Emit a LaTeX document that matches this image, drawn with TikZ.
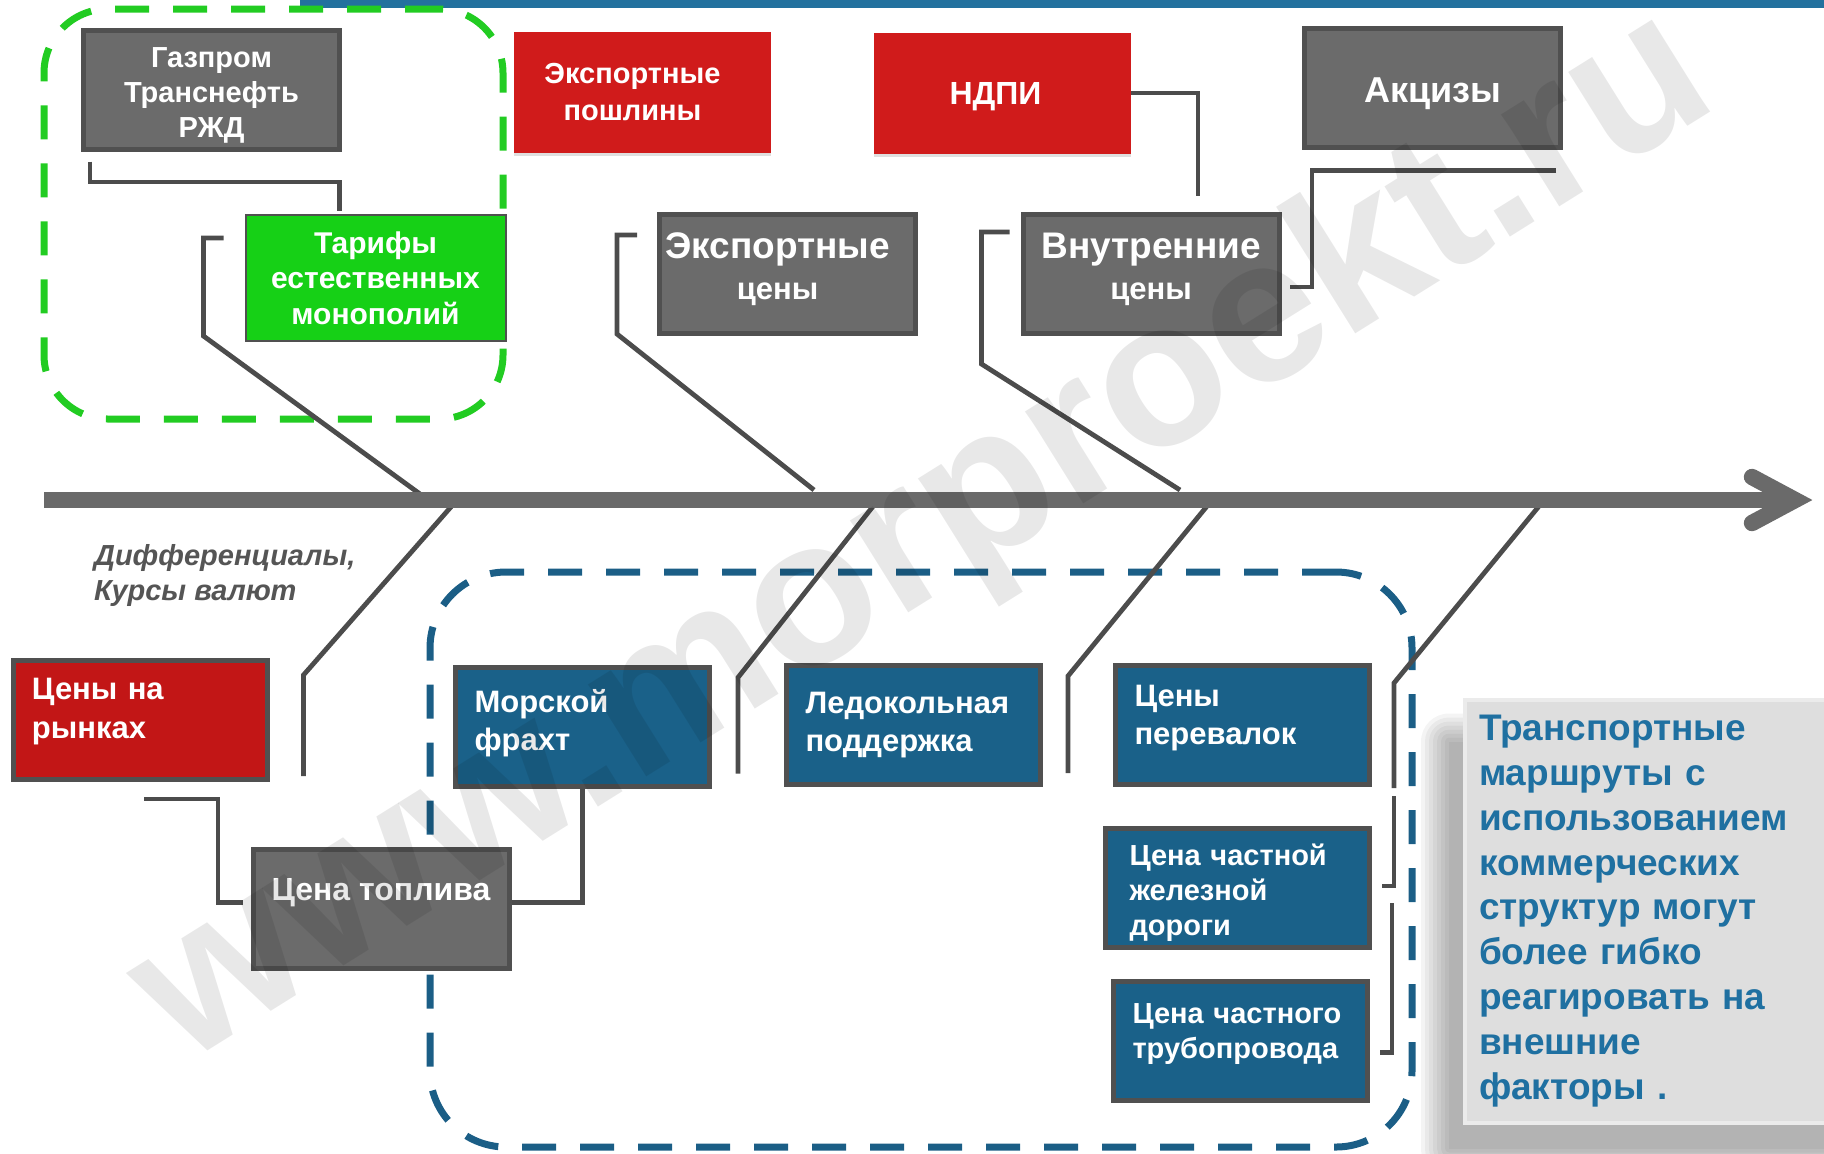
\documentclass[tikz,border=0pt]{standalone}
\usepackage{fontspec}
\setmainfont{Liberation Sans}
\usepackage{xcolor}
\usepackage{tikz}
\usetikzlibrary{shadows,backgrounds}
\definecolor{fbbar}{HTML}{23719E}
\definecolor{fbgray}{HTML}{6B6B6B}
\definecolor{fbrim}{HTML}{505050}
\definecolor{fbred}{HTML}{D01B1B}
\definecolor{fbredmkt}{HTML}{C21616}
\definecolor{fbgreen}{HTML}{16D016}
\definecolor{fbgreenline}{HTML}{22CC22}
\definecolor{fbblue}{HTML}{1A6189}
\definecolor{fbblueline}{HTML}{1B5E86}
\definecolor{fbbone}{HTML}{4C4C4C}
\definecolor{fbaxis}{HTML}{6A6A6A}
\definecolor{fbnote}{HTML}{DEDEDE}
\definecolor{fbnotetext}{HTML}{1F70A1}
\definecolor{fbitalic}{HTML}{555555}
\newcommand{\fsz}[2]{\fontsize{#1}{#2}\selectfont\bfseries}
\newcommand{\rpad}[1]{\hbox to #1{}}
\tikzset{
  graybox/.style={draw=fbrim,line width=2.5pt,fill=fbgray,text=white,
                  align=center,inner sep=0pt,minimum width=128pt,minimum height=59.5pt},
  redbox/.style={fill=fbred,text=white,align=center,inner sep=0pt,
                 minimum width=128.5pt,minimum height=60.5pt,
                 drop shadow={shadow xshift=0pt,shadow yshift=-1.5pt,opacity=.25}},
  greenbox/.style={draw=fbrim,line width=1pt,fill=fbgreen,text=white,
                   align=center,inner sep=0pt,minimum width=130pt,minimum height=63pt},
  bluebox/.style={draw=fbrim,line width=2.5pt,fill=fbblue,text=white,align=left,
                  inner xsep=9.5pt,inner ysep=0pt,text width=108pt,
                  minimum width=127pt,minimum height=59.5pt},
  marketbox/.style={bluebox,fill=fbredmkt},
  groupframe/.style={dash pattern=on 17pt off 12pt,line width=3.5pt,
                     rounded corners=32pt,inner sep=0pt},
  bone/.style={draw=fbbone,line width=2.4pt},
  spine/.style={draw=fbaxis,line width=8.2pt},
  notebox/.style={fill=fbnote,draw=white!92!black,line width=2pt,text=fbnotetext,
                  align=left,inner xsep=7pt,text width=176pt,minimum height=211.5pt,
                  font=\fsz{18.5}{22.4}},
  haze/.style={fill=black,opacity=.045,rounded corners=#1},
  watermark/.style={text=black,text opacity=.09,font=\fsz{103}{110}}
}
\begin{document}
\begin{tikzpicture}[x=0.5pt,y=-0.5pt]
  \useasboundingbox (0,0) rectangle (1824,1153);
  \fill[fbbar] (300,0) rectangle (1824,8);

  \node[groupframe,draw=fbgreenline,minimum width=229.5pt,minimum height=205pt] (monopolies) at (273.5,214) {};
  \node[groupframe,draw=fbblueline,rounded corners=38pt,minimum width=491pt,minimum height=287.5pt] (transport) at (921,859.5) {};

  \node[graybox,font=\fsz{14.5}{17.5},text width=118pt,text height=10.4pt,text depth=32pt] (gazprom) at (211.5,89.5) {Газпром\\Транснефть\\РЖД};
  \node[greenbox,font=\fsz{15}{17.8}] (tarify) at (375.5,278) {Тарифы\\естественных\\монополий};
  \node[redbox,font=\fsz{14.5}{18.4}] (poshliny) at (642.5,92) {Экспортные\rpad{10pt}\\пошлины\rpad{10pt}};
  \node[redbox,font=\fsz{16}{19},text height=11.5pt,text depth=0pt] (ndpi) at (1002.5,93) {НДПИ\rpad{7pt}};
  \node[graybox,font=\fsz{18}{21},text height=14.9pt,text depth=0pt] (akcizy) at (1432.5,87.5) {Акцизы};
  \node[graybox,font=\fsz{18.5}{20.5},text width=124pt,text height=13.2pt,text depth=28.4pt] (expceny) at (787.5,274)
    {Экспортные\rpad{10pt}\\\fontsize{15.5}{20.5}\selectfont цены\rpad{10pt}};
  \node[graybox,font=\fsz{18.5}{20.5},text width=124pt,text height=13.2pt,text depth=28.4pt] (vnutrceny) at (1151,274)
    {Внутренние\\\fontsize{15.5}{20.5}\selectfont цены};

  \node[marketbox,font=\fsz{15.5}{19.5},text height=11.1pt,text depth=32.1pt] (rynki) at (140,720) {Цены на\\рынках};
  \node[graybox,font=\fsz{16}{19},text height=12pt,text depth=20pt] (toplivo) at (381,908.5) {Цена топлива};
  \node[bluebox,font=\fsz{15.5}{19},text height=11.5pt,text depth=25.3pt] (frakht) at (582.5,726.5) {Морской\\фрахт};
  \node[bluebox,font=\fsz{15.5}{19}] (ledokol) at (913.5,725) {Ледокольная\\поддержка};
  \node[bluebox,font=\fsz{15.5}{19},text height=11.1pt,text depth=29.3pt] (perevalka) at (1242.5,725) {Цены\\перевалок};
  \node[bluebox,font=\fsz{14.5}{17.5},minimum width=132pt,text height=10.7pt,text depth=33.4pt] (railway) at (1237.5,888) {Цена частной\\железной\\дороги};
  \node[bluebox,font=\fsz{14.5}{17.5},text height=10.4pt,text depth=27.6pt] (pipeline) at (1240.5,1040.5) {Цена частного\\трубопровода};

  \node[anchor=west,align=left,text=fbitalic,font=\fsz{14.5}{17.5}\itshape] (kursy) at (87,575.5) {Дифференциалы,\\Курсы валют};

  \node[notebox,anchor=west,minimum width=190pt] (conclusion) at (1463,911)
    {Транспортные\\маршруты с\\использованием\\коммерческих\\структур могут\\более гибко\\реагировать на\\внешние\\факторы .};
  \begin{scope}[on background layer]
    \fill[haze=0pt] ([shift={(-14,44)}]conclusion.north west) rectangle ([shift={(-14,24)}]conclusion.south east);
    \fill[haze=2pt] ([shift={(-18,40)}]conclusion.north west) rectangle ([shift={(-10,28)}]conclusion.south east);
    \fill[haze=4pt] ([shift={(-22,36)}]conclusion.north west) rectangle ([shift={(-6,32)}]conclusion.south east);
    \fill[haze=6pt] ([shift={(-26,32)}]conclusion.north west) rectangle ([shift={(-2,36)}]conclusion.south east);
    \fill[haze=8pt] ([shift={(-30,28)}]conclusion.north west) rectangle ([shift={(2,40)}]conclusion.south east);
    \fill[haze=10pt] ([shift={(-34,24)}]conclusion.north west) rectangle ([shift={(6,44)}]conclusion.south east);
    \fill[haze=12pt] ([shift={(-38,20)}]conclusion.north west) rectangle ([shift={(10,48)}]conclusion.south east);
    \fill[haze=14pt] ([shift={(-42,16)}]conclusion.north west) rectangle ([shift={(14,52)}]conclusion.south east);
  \end{scope}

  \coordinate (spineL) at (44,500);
  \coordinate (spineR) at (1795,500);
  \coordinate (upA) at (420,494);
  \coordinate (upB) at (814,490);
  \coordinate (upC) at (1180,490);
  \coordinate (dnA) at (457,500);
  \coordinate (dnB) at (878,500);
  \coordinate (dnC) at (1212,500);
  \coordinate (dnD) at (1544,500);

  \draw[bone] ([shift={(9,10)}]gazprom.south west) |- ([shift={(95,-32)}]tarify.north west)
    -- ([shift={(95,-3)}]tarify.north west);
  \draw[bone] ([shift={(-21,24)}]tarify.north west) -- ++(-20,0) -- ++(0,98) -- (upA);
  \draw[bone] ([shift={(-20,23)}]expceny.north west) -- ++(-20,0) -- ++(0,99) -- (upB);
  \draw[bone] ([shift={(-11,20)}]vnutrceny.north west) -- ++(-28,0) -- ++(0,132) -- (upC);
  \draw[bone] (ndpi.east) -| ([shift={(47,-16)}]vnutrceny.north);
  \draw[bone] ([shift={(-7,21)}]akcizy.south east) -- ++(-244,0) |- ([shift={(8,13)}]vnutrceny.east);

  \draw[bone] (dnA) -- ([shift={(34,17)}]rynki.north east) -- ([shift={(34,-6)}]rynki.south east);
  \draw[bone] ([shift={(4,17)}]rynki.south) -- ++(74,0) |- ([shift={(-8,-6)}]toplivo.west);
  \draw[bone] ([shift={(0,-6)}]toplivo.east) -| (frakht.south);
  \draw[bone] (dnB) -- ([shift={(26,-49)}]frakht.east) -- ([shift={(26,47)}]frakht.east);
  \draw[bone] (dnC) -- ([shift={(25,-49)}]ledokol.east) -- ([shift={(25,48)}]ledokol.east);
  \draw[bone] (dnD) -- ([shift={(22,-42)}]perevalka.east) -- ([shift={(22,63)}]perevalka.east);
  \draw[bone] ([shift={(22,71)}]perevalka.east) |- ([shift={(10,-2)}]railway.east);
  \draw[bone] ([shift={(20,15)}]railway.east) |- ([shift={(10,12)}]pipeline.east);

  \draw[spine] (spineL) -- (spineR);
  \draw[spine,line cap=round] ([shift={(-43,-23)}]spineR) -- (spineR) -- ([shift={(-43,23)}]spineR);

  \node[watermark,rotate=32] (site) at (925,540) {www.morproekt.ru};
\end{tikzpicture}
\end{document}
